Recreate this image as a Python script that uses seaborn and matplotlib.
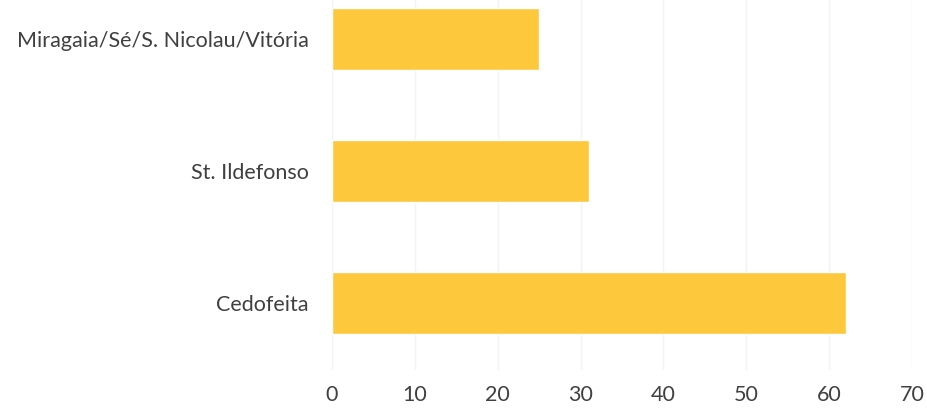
import pandas as pd
import seaborn as sns
import matplotlib.pyplot as plt

# Parishes and their counts
parishes = ["Miragaia/Sé/S. Nicolau/Vitória", "St. Ildefonso", "Cedofeita"]
counts = [25, 31, 62]

df = pd.DataFrame({"Freguesia": parishes, "Total": counts})

sns.set_style("white")
plt.rcParams["font.family"] = ["Lato", "DejaVu Sans"]

fig = plt.figure(figsize=(9.28, 4.12), dpi=100)
ax = fig.add_axes([332 / 928, 42 / 412, 580 / 928, 370 / 412])

sns.barplot(data=df, x="Total", y="Freguesia", color="#FDC83C",
            width=0.47, saturation=1, ax=ax, zorder=3)

ax.set_xlim(0, 70)
ax.set_xticks(range(0, 71, 10))
ax.set_ylim(2.51, -0.295)
ax.grid(axis="x", color="#F3F3F3", linewidth=1, zorder=0)
ax.set_xlabel("")
ax.set_ylabel("")
for s in ax.spines.values():
    s.set_visible(False)
ax.tick_params(axis="both", length=0, labelsize=15.5, labelcolor="#404040")
ax.tick_params(axis="y", pad=17)
ax.tick_params(axis="x", pad=11)

plt.savefig("out.png", dpi=100)
